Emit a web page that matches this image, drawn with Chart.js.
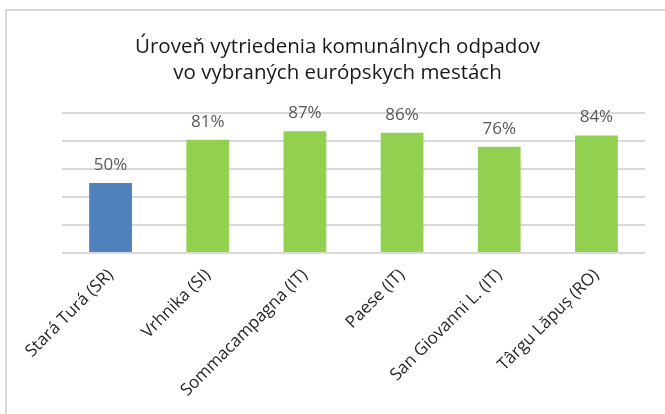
<!DOCTYPE html>
<html>
<head>
<meta charset="utf-8">
<script src="https://cdn.jsdelivr.net/npm/chart.js@4"></script>
<style>
  html, body { margin: 0; padding: 0; background: #fff; }
  #wrap { width: 665px; height: 414px; }
</style>
</head>
<body>
<div id="wrap"><canvas id="myChart" width="665" height="414"></canvas></div>
<script>
var cities = ["Stará Turá (SR)", "Vrhnika (SI)", "Sommacampagna (IT)", "Paese (IT)", "San Giovanni L. (IT)", "Târgu Lăpuș (RO)"];
var sortingRate = [50, 81, 87, 86, 76, 84];
var barColors = ["#4f81bd", "#92d050", "#92d050", "#92d050", "#92d050", "#92d050"];
var chartTitle = ["Úroveň vytriedenia komunálnych odpadov", "vo vybraných európskych mestách"];

var fontFamily = "'Open Sans', 'Noto Sans', sans-serif";

// frame around the chart (only top and left edge visible)
var framePlugin = {
    id: "frame",
    beforeDraw: function (chart) {
        var ctx = chart.ctx;
        ctx.save();
        ctx.strokeStyle = "#d9d9d9";
        ctx.lineWidth = 2;
        ctx.beginPath();
        ctx.moveTo(6, 414);
        ctx.lineTo(6, 10);
        ctx.lineTo(665, 10);
        ctx.stroke();
        ctx.restore();
    }
};

// value labels above the bars
var valueLabels = {
    id: "valueLabels",
    afterDatasetsDraw: function (chart) {
        var ctx = chart.ctx;
        var meta = chart.getDatasetMeta(0);
        ctx.save();
        ctx.fillStyle = "#595959";
        ctx.font = "17px " + fontFamily;
        ctx.textAlign = "center";
        ctx.textBaseline = "alphabetic";
        meta.data.forEach(function (bar, i) {
            ctx.fillText(sortingRate[i] + "%", bar.x, bar.y - 13);
        });
        ctx.restore();
    }
};

var ctx = document.getElementById("myChart").getContext("2d");
var chart = new Chart(ctx, {
    type: "bar",
    data: {
        labels: cities,
        datasets: [{
            data: sortingRate,
            backgroundColor: barColors,
            borderWidth: 0,
            barPercentage: 0.44,
            categoryPercentage: 1
        }]
    },
    options: {
        responsive: false,
        animation: false,
        layout: {
            padding: { left: 10, right: 0, top: 0, bottom: 0 }
        },
        plugins: {
            legend: { display: false },
            tooltip: { enabled: false },
            title: {
                display: true,
                text: chartTitle,
                color: "#1a1a1a",
                font: { family: fontFamily, size: 20.5, weight: "normal", lineHeight: 1.27 },
                padding: { top: 34, bottom: 27 }
            }
        },
        scales: {
            x: {
                grid: { display: false },
                border: { display: false },
                ticks: {
                    color: "#262626",
                    font: { family: fontFamily, size: 17 },
                    minRotation: 45,
                    maxRotation: 45,
                    padding: 4
                },
                afterFit: function (scale) { scale.height = 161; }
            },
            y: {
                min: 0,
                max: 100,
                ticks: { display: false, stepSize: 20 },
                border: { display: false },
                grid: { color: "#d9d9d9", lineWidth: 2, drawTicks: false },
                afterFit: function (scale) { scale.width = 52; }
            },
            yRight: {
                position: "right",
                min: 0,
                max: 100,
                ticks: { display: false },
                border: { display: false },
                grid: { display: false, drawTicks: false },
                afterFit: function (scale) { scale.width = 20; }
            }
        }
    },
    plugins: [framePlugin, valueLabels]
});
</script>
</body>
</html>
